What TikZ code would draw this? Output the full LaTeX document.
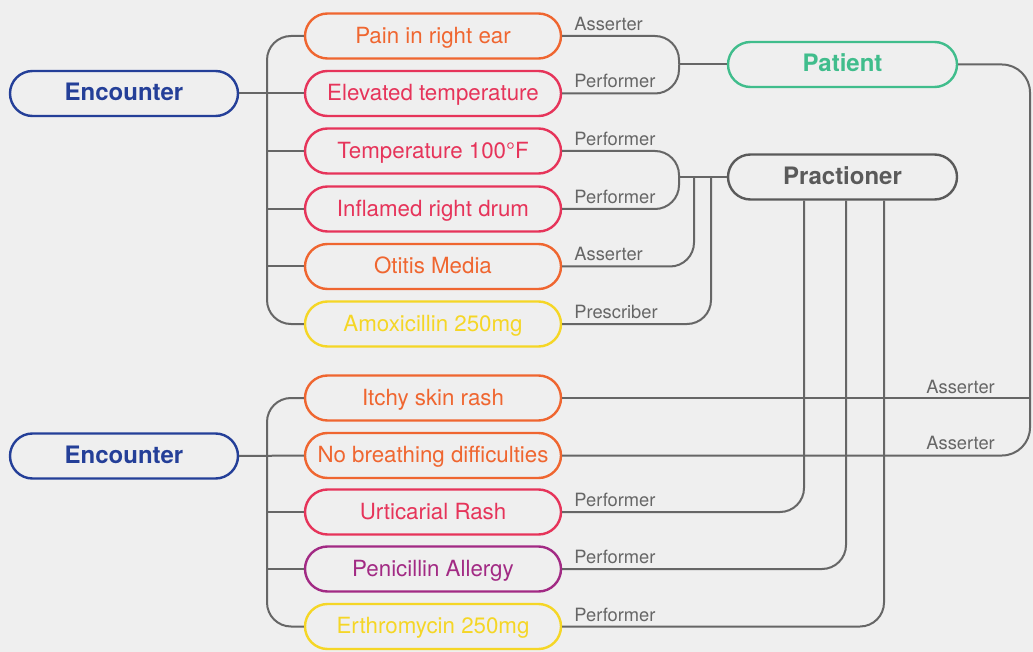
\documentclass[tikz,border=0pt]{standalone}
\usepackage{fontspec}
\setmainfont{TeX Gyre Heros}
\usetikzlibrary{positioning, calc}
\definecolor{bgcol}{HTML}{EFEFEF}
\definecolor{encblue}{HTML}{243F98}
\definecolor{patgreen}{HTML}{40BD8C}
\definecolor{practgrey}{HTML}{5A5A5A}
\definecolor{obsorange}{HTML}{EF6630}
\definecolor{obsred}{HTML}{E6345A}
\definecolor{obspurple}{HTML}{A22A84}
\definecolor{medyellow}{HTML}{F5D626}
\definecolor{linkgrey}{HTML}{666666}
\tikzset{
  pill/.style={draw, line width=2.4pt, rounded corners=22.5pt, minimum width=256pt,
    minimum height=45pt, inner sep=0pt, text height=16pt, text depth=1.4pt,
    font=\fontsize{22.3}{26}\selectfont},
  hub/.style={pill, minimum width=229pt, font=\fontsize{24}{28}\selectfont\bfseries},
  link/.style={draw=linkgrey, line width=2pt, rounded corners=24pt},
  role/.style={text=linkgrey, font=\fontsize{18.3}{22}\selectfont, inner sep=0pt, anchor=base west}
}

\begin{document}
\begin{tikzpicture}[x=1pt, y=-1pt]
  \fill[bgcol] (0,0) rectangle (1033,652);
  \useasboundingbox (0,0) rectangle (1033,652);

  \node[hub, draw=encblue, text=encblue, minimum width=228pt] (enc1) at (124,93.5) {Encounter};
  \node[hub, draw=encblue, text=encblue, minimum width=228pt] (enc2) at (124,456) {Encounter};
  \node[hub, draw=patgreen, text=patgreen] (patient) at (842.5,64.5) {Patient};
  \node[hub, draw=practgrey, text=practgrey] (pract) at (842.5,177) {Practioner};

  \foreach \name/\y/\col/\txt in {pain/36/obsorange/Pain in right ear,
      elev/93.5/obsred/Elevated temperature, temp/151/obsred/Temperature 100°F,
      drum/209/obsred/Inflamed right drum, otitis/266.5/obsorange/Otitis Media,
      amox/324/medyellow/Amoxicillin 250mg, itchy/398/obsorange/Itchy skin rash,
      nobr/455.5/obsorange/No breathing difficulties, urt/512/obsred/Urticarial Rash,
      pen/569/obspurple/Penicillin Allergy, eryth/626.5/medyellow/Erthromycin 250mg} {
    \node[pill, draw=\col, text=\col] (\name) at (433,\y) {\txt};
  }

  \coordinate (t1) at (267,93.5);
  \coordinate (t2) at (267,455.5);
  \draw[link] (pain.west) -| (t1);
  \draw[link] (amox.west) -| (t1);
  \draw[link] (enc1.east) -- (elev.west);
  \foreach \n in {temp, drum, otitis} {
    \draw[link] (\n.west -| t1) -- (\n.west);
  }
  \draw[link] (itchy.west) -| (t2);
  \draw[link] (eryth.west) -| (t2);
  \draw[link] (enc2.east) -- (nobr.west);
  \foreach \n in {urt, pen} {
    \draw[link] (\n.west -| t2) -- (\n.west);
  }

  \coordinate (pj) at (679,64.5);
  \draw[link] (pain.east) -| (pj);
  \draw[link] (elev.east) -| (pj);
  \draw[link] (pj) -- (patient.west);

  \coordinate (rj) at (679,177);
  \coordinate (rj2) at (694,177);
  \coordinate (rj3) at (711,177);
  \draw[link] (temp.east) -| (rj);
  \draw[link] (drum.east) -| (rj);
  \draw[link] (rj) -- (pract.west);
  \draw[link] (otitis.east) -| (rj2);
  \draw[link] (amox.east) -| (rj3);

  \draw[link] (urt.east) -| ([xshift=-38.5pt]pract.south);
  \draw[link] (pen.east) -| ([xshift=3.5pt]pract.south);
  \draw[link] (eryth.east) -| ([xshift=41.5pt]pract.south);

  \coordinate (pr) at (1030,398);
  \draw[link, rounded corners=28pt] (patient.east) -| (pr);
  \draw[link, rounded corners=28pt] (nobr.east) -| (pr);
  \draw[link] (itchy.east) -- (pr);

  \foreach \n/\r in {pain/Asserter, elev/Performer, temp/Performer, drum/Performer,
      otitis/Asserter, amox/Prescriber, urt/Performer, pen/Performer, eryth/Performer} {
    \node[role] (\n-role) at ([xshift=12pt, yshift=5.5pt]\n.east) {\r};
  }
  \node[role, anchor=base east] (itchy-role) at (995,393) {Asserter};
  \node[role, anchor=base east] (nobr-role) at (995,449.5) {Asserter};
\end{tikzpicture}
\end{document}
